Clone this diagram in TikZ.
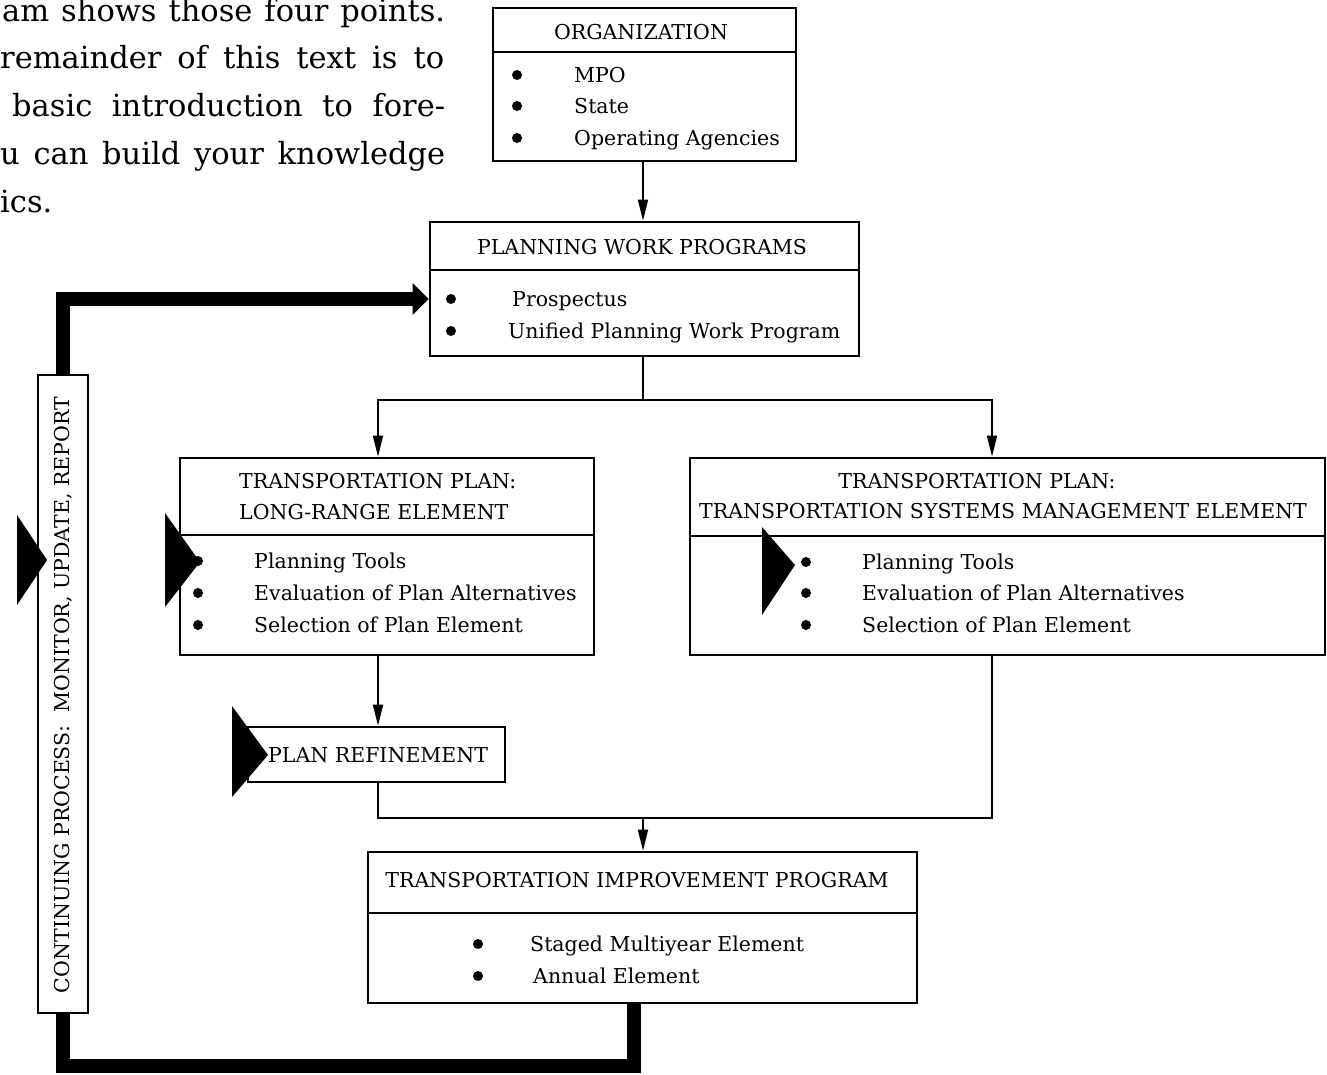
\documentclass[tikz,border=0pt]{standalone}
\usepackage{fontspec}
\setmainfont{DejaVu Serif}
\usetikzlibrary{arrows.meta,calc}
\newcommand\boxfont{\fontsize{20.5}{24}\selectfont}
\newcommand\parafont{\fontsize{30.5}{36}\selectfont}

\begin{document}
\begin{tikzpicture}[x=1pt,y=-1pt,
  frame/.style={draw, line width=2.7pt, fill=white, inner sep=0pt, rectangle},
  rule/.style={line width=2.2pt},
  conn/.style={line width=1.7pt},
  arr/.style={-{Triangle[length=21pt,width=10pt]}},
  heavy/.style={line width=14pt, line join=miter},
  bul/.style={circle, fill=black, inner sep=0pt, minimum size=10pt},
  lbl/.style={inner sep=0pt, anchor=base west, font=\boxfont},
  ttl/.style={inner sep=0pt, anchor=base, font=\boxfont},
  para/.style={inner sep=0pt, anchor=base west, font=\parafont},
  marker/.style={fill=black},
]
\useasboundingbox (0,0) rectangle (1327,1074);

% running text beside the chart
\node[para] (p1) at (2,21)   {\makebox[443pt][s]{am shows those four points.}};
\node[para] (p2) at (0,68)   {\makebox[444pt][s]{remainder of this text is to}};
\node[para] (p3) at (12,116) {\makebox[433pt][s]{basic introduction to fore-}};
\node[para] (p4) at (0,164)  {\makebox[445pt][s]{u can build your knowledge}};
\node[para] (p5) at (0,212)  {ics.};

% boxes
\node[frame, minimum width=303pt, minimum height=153pt] (org) at (644.5,84.5) {};
\node[frame, minimum width=429pt, minimum height=134pt] (pwp) at (644.5,289) {};
\node[frame, minimum width=414pt, minimum height=197pt] (lr)  at (387,556.5) {};
\node[frame, minimum width=635pt, minimum height=197pt] (tsm) at (1007.5,556.5) {};
\node[frame, minimum width=257pt, minimum height=55pt]  (ref) at (376.5,754.5) {};
\node[frame, minimum width=549pt, minimum height=151pt] (tip) at (642.5,927.5) {};
\node[frame, minimum width=50pt,  minimum height=638pt] (cont) at (63,694) {};

% header dividers
\draw[rule] (org.west |- 0,52)  -- (org.east |- 0,52);
\draw[rule] (pwp.west |- 0,270) -- (pwp.east |- 0,270);
\draw[rule] (lr.west |- 0,535)  -- (lr.east |- 0,535);
\draw[rule] (tsm.west |- 0,536) -- (tsm.east |- 0,536);
\draw[rule] (tip.west |- 0,913) -- (tip.east |- 0,913);

% ORGANIZATION
\node[ttl] (orgT) at (641,39.5) {ORGANIZATION};
\foreach \y/\t [count=\i] in {75/MPO,106/State,138/Operating Agencies}{
  \node[bul] (orgB\i) at (517,\y) {};
  \node[lbl] (orgI\i) at (574,\y+7.5) {\t};
}

% PLANNING WORK PROGRAMS
\node[ttl] (pwpT) at (642,254.5) {PLANNING WORK PROGRAMS};
\node[bul] (pwpB1) at (451,299) {};
\node[bul] (pwpB2) at (451,331) {};
\node[lbl] (pwpI1) at (512,306.5) {Prospectus};
\node[lbl] (pwpI2) at (508,338.5) {Unified Planning Work Program};

% LONG-RANGE ELEMENT
\node[lbl] (lrT1) at (239,488.5) {TRANSPORTATION PLAN:};
\node[lbl] (lrT2) at (239,519.5) {LONG-RANGE ELEMENT};
\foreach \y/\t [count=\i] in {561/Planning Tools,593/Evaluation of Plan Alternatives,625/Selection of Plan Element}{
  \node[bul] (lrB\i) at (198,\y) {};
  \node[lbl] (lrI\i) at (254,\y+7.5) {\t};
}

% TSM ELEMENT
\node[ttl] (tsmT1) at (977,488.5) {TRANSPORTATION PLAN:};
\node[ttl] (tsmT2) at (1003,518.5) {TRANSPORTATION SYSTEMS MANAGEMENT ELEMENT};
\foreach \y/\t [count=\i] in {562/Planning Tools,593/Evaluation of Plan Alternatives,625/Selection of Plan Element}{
  \node[bul] (tsmB\i) at (806,\y) {};
  \node[lbl] (tsmI\i) at (862,\y+7.5) {\t};
}

% PLAN REFINEMENT
\node[lbl] (refT) at (268,762.5) {PLAN REFINEMENT};

% TIP
\node[ttl] (tipT) at (637,887.5) {TRANSPORTATION IMPROVEMENT PROGRAM};
\node[bul] (tipB1) at (478,944) {};
\node[bul] (tipB2) at (478,976) {};
\node[lbl] (tipI1) at (530,951.5) {Staged Multiyear Element};
\node[lbl] (tipI2) at (533,983.5) {Annual Element};

% continuing process
\node[rotate=90, inner sep=0pt, font=\boxfont] (contT) at (63,695)
  {CONTINUING PROCESS:\ \ MONITOR, UPDATE, REPORT};

% thin connectors
\coordinate (bus) at (643,400);
\coordinate (join) at (643,818);
\draw[conn, arr] ([xshift=-1.5pt]org.south) -- ([xshift=-1.5pt]pwp.north);
\draw[conn] ([xshift=-1.5pt]pwp.south) -- (bus);
\draw[conn, arr] (bus) -| ([xshift=-9pt]lr.north);
\draw[conn, arr] (bus) -| ([xshift=-15.5pt]tsm.north);
\draw[conn, arr] ([xshift=-9pt]lr.south) -- ([xshift=1.5pt]ref.north);
\draw[conn] ([xshift=1.5pt]ref.south) |- (join) -| ([xshift=-15.5pt]tsm.south);
\draw[conn, arr] (join) -- ([xshift=0.5pt]tip.north);

% heavy feedback loop
\draw[heavy, -{Triangle[length=16pt,width=31pt]}] (cont.north) |- (pwp.west |- 0,299);
\draw[heavy] ([xshift=-8.5pt]tip.south) |- (cont.south |- 0,1066) -- (cont.south);

% feedback markers
\fill[marker] (17,515) -- (17,605) -- (47,560) -- cycle;
\fill[marker] (165,513) -- (165,607) -- (200,562) -- cycle;
\fill[marker] (762,527) -- (762,615) -- (795,565) -- cycle;
\fill[marker] (232,706) -- (232,797) -- (268,755) -- cycle;
\end{tikzpicture}
\end{document}
